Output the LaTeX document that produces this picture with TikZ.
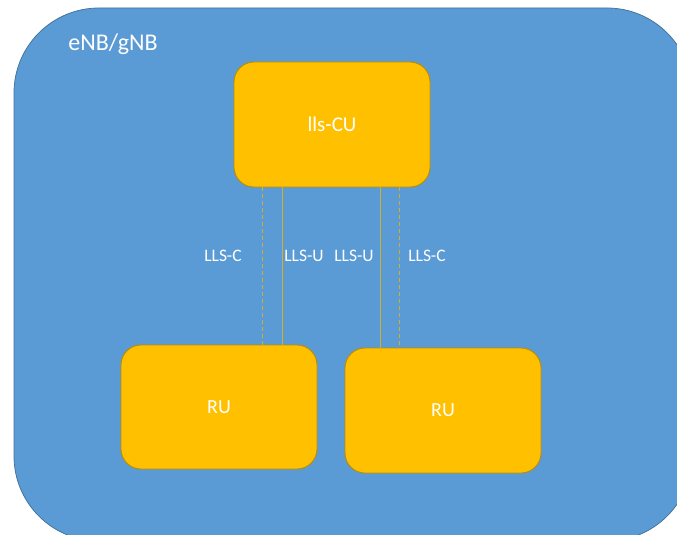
\documentclass[tikz,border=0pt]{standalone}
\usepackage{fontspec}
\setmainfont{Carlito}
\definecolor{nbblue}{HTML}{5B9BD5}
\definecolor{nbborder}{HTML}{41719C}
\definecolor{boxyellow}{HTML}{FFC000}
\definecolor{boxborder}{HTML}{BC8C00}
\definecolor{linkcol}{HTML}{D2AE2E}
\begin{document}
\begin{tikzpicture}[x=1pt,y=-1pt,
  unitbox/.style={draw=boxborder, line width=0.9pt, fill=boxyellow, rounded corners=20pt,
    minimum width=196pt, minimum height=125pt, inner sep=0pt, text=white},
  lbl/.style={text=white, font=\fontsize{17.5}{20}\selectfont, inner sep=0pt},
  ctrl/.style={draw=linkcol, line width=0.9pt, dash pattern=on 4pt off 3pt},
  user/.style={draw=linkcol, line width=0.9pt}]
\useasboundingbox (0,0) rectangle (677,535);
\begin{scope}
\clip (0,0) rectangle (677,535);
\filldraw[fill=nbblue, draw=nbborder, line width=0.75pt, rounded corners=85pt] (14,8) rectangle (692,541);
\end{scope}
\node[text=white, font=\fontsize{24}{28}\selectfont, inner sep=0pt] (enb) at (113,44) {eNB/gNB};
\node[unitbox] (cu) at (332,124.5) {\fontsize{21}{24}\selectfont lls-CU};
\node[unitbox, minimum height=124pt] (ru1) at (219,407) {\fontsize{20}{24}\selectfont RU};
\node[unitbox] (ru2) at (443,410.5) {\fontsize{20}{24}\selectfont RU};
\coordinate (xa) at (262,0);
\coordinate (xb) at (282,0);
\coordinate (xc) at (380,0);
\coordinate (xd) at (399,0);
\draw[ctrl] (cu.south -| xa) -- (ru1.north -| xa);
\draw[user] (cu.south -| xb) -- (ru1.north -| xb);
\draw[user] (cu.south -| xc) -- (ru2.north -| xc);
\draw[ctrl] (cu.south -| xd) -- (ru2.north -| xd);
\node[lbl] (l1) at (223,256) {LLS-C};
\node[lbl] (l2) at (304,256) {LLS-U};
\node[lbl] (l3) at (354,256) {LLS-U};
\node[lbl] (l4) at (427,256) {LLS-C};
\end{tikzpicture}
\end{document}
